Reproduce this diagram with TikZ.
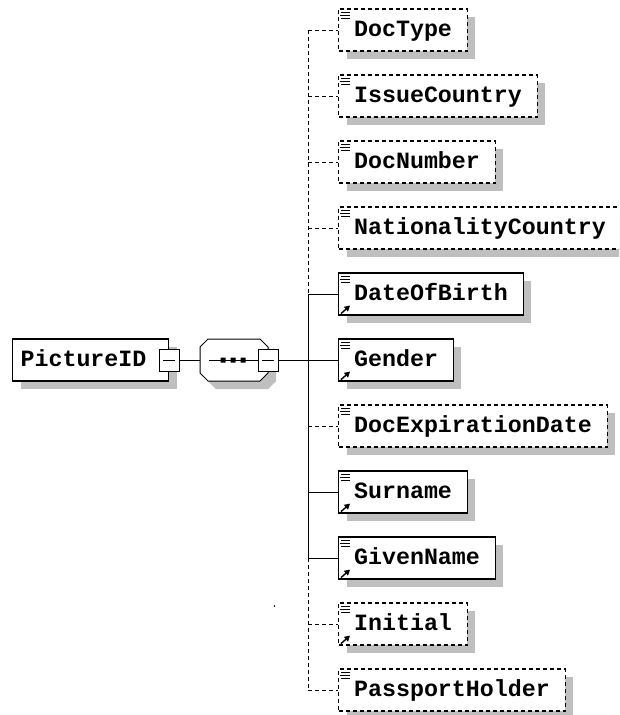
\documentclass[tikz,border=0pt]{standalone}
\usepackage{fontspec}
\setmonofont{Liberation Mono}
\usetikzlibrary{shadows,arrows.meta}
\tikzset{
elem/.style={draw,fill=white,line width=1.2pt,minimum height=42pt,inner xsep=15.5pt,inner ysep=0pt,
  text height=16pt,text depth=2.5pt,anchor=west,font=\ttfamily\bfseries\fontsize{23.3}{24}\selectfont,
  drop shadow={shadow xshift=8pt,shadow yshift=-8pt,fill=black!25,opacity=1}},
optional/.style={dash pattern=on 4pt off 3pt},
collapse/.style={draw,fill=white,line width=1pt,minimum width=20pt,minimum height=22pt,inner sep=0pt}
}
\newcommand\childmark[1]{\draw[line width=1pt] (#1.north west) ++(3,4) -- ++(9,0) ++(-10,3) -- ++(10,0) ++(-9,3) -- ++(9,0);}
\newcommand\refmark[1]{\draw[line width=1.4pt,-{Triangle[length=5.5pt,width=6pt]}] (#1.south west) ++(3,-2) -- ++(9,-8);}
\newcommand\minusmark[1]{\draw[line width=1pt] (#1.center) ++(-6,0) -- ++(12,0);}
\begin{document}
\begin{tikzpicture}[x=1pt,y=-1pt,line width=1pt]
\useasboundingbox (0,0) rectangle (619,715);
\clip (0,0) rectangle (619,715);
\node[elem,text width=140pt,inner xsep=8pt,align=left] (pictureid) at (12,360) {PictureID};
\node[collapse] (pidminus) at (pictureid.east) {};
\minusmark{pidminus}
\fill[black!25,shift={(8,8)}] (208,339) -- (260,339) -- (268,347) -- (268,373) -- (260,381) -- (208,381) -- (200,373) -- (200,347) -- cycle;
\draw[fill=white] (208,339) -- (260,339) -- (268,347) -- (268,373) -- (260,381) -- (208,381) -- (200,373) -- (200,347) -- cycle;
\coordinate (seqin) at (200,360);
\draw (209,360) -- (258,360);
\fill (220.5,357.5) rectangle +(5,5) (230.5,357.5) rectangle +(5,5) (240.5,357.5) rectangle +(5,5);
\node[collapse] (seqminus) at (268,360) {};
\minusmark{seqminus}
\draw (pidminus) -- (seqin);
\node[elem,optional] (doctype) at (338,30) {DocType};
\node[elem,optional] (issuecountry) at (338,96) {IssueCountry};
\node[elem,optional] (docnumber) at (338,162) {DocNumber};
\node[elem,optional] (nationality) at (338,228) {NationalityCountry};
\node[elem] (dateofbirth) at (338,294) {DateOfBirth};
\node[elem] (gender) at (338,360) {Gender};
\node[elem,optional] (docexpiration) at (338,426) {DocExpirationDate};
\node[elem] (surname) at (338,492) {Surname};
\node[elem] (givenname) at (338,558) {GivenName};
\node[elem,optional] (initial) at (338,624) {Initial};
\node[elem,optional] (passportholder) at (338,690) {PassportHolder};
\childmark{doctype} \childmark{issuecountry} \childmark{docnumber} \childmark{nationality}
\childmark{dateofbirth} \childmark{gender} \childmark{docexpiration} \childmark{surname}
\childmark{givenname} \childmark{initial} \childmark{passportholder}
\refmark{dateofbirth} \refmark{gender} \refmark{surname} \refmark{givenname} \refmark{initial}
\coordinate (b1) at (308,30);
\coordinate (b2) at (308,96);
\coordinate (b3) at (308,162);
\coordinate (b4) at (308,228);
\coordinate (b5) at (308,294);
\coordinate (b6) at (308,360);
\coordinate (b7) at (308,426);
\coordinate (b8) at (308,492);
\coordinate (b9) at (308,558);
\coordinate (b10) at (308,624);
\coordinate (b11) at (308,690);
\draw (seqminus) -- (b6);
\draw[optional] (b1) -- (b5);
\draw (b5) -- (b9);
\draw[optional] (b9) -- (b11);
\draw[optional] (b1) -- (doctype.west);
\draw[optional] (b2) -- (issuecountry.west);
\draw[optional] (b3) -- (docnumber.west);
\draw[optional] (b4) -- (nationality.west);
\draw (b5) -- (dateofbirth.west);
\draw (b6) -- (gender.west);
\draw[optional] (b7) -- (docexpiration.west);
\draw (b8) -- (surname.west);
\draw (b9) -- (givenname.west);
\draw[optional] (b10) -- (initial.west);
\draw[optional] (b11) -- (passportholder.west);
\fill (274.5,606) circle (0.8);
\end{tikzpicture}
\end{document}
